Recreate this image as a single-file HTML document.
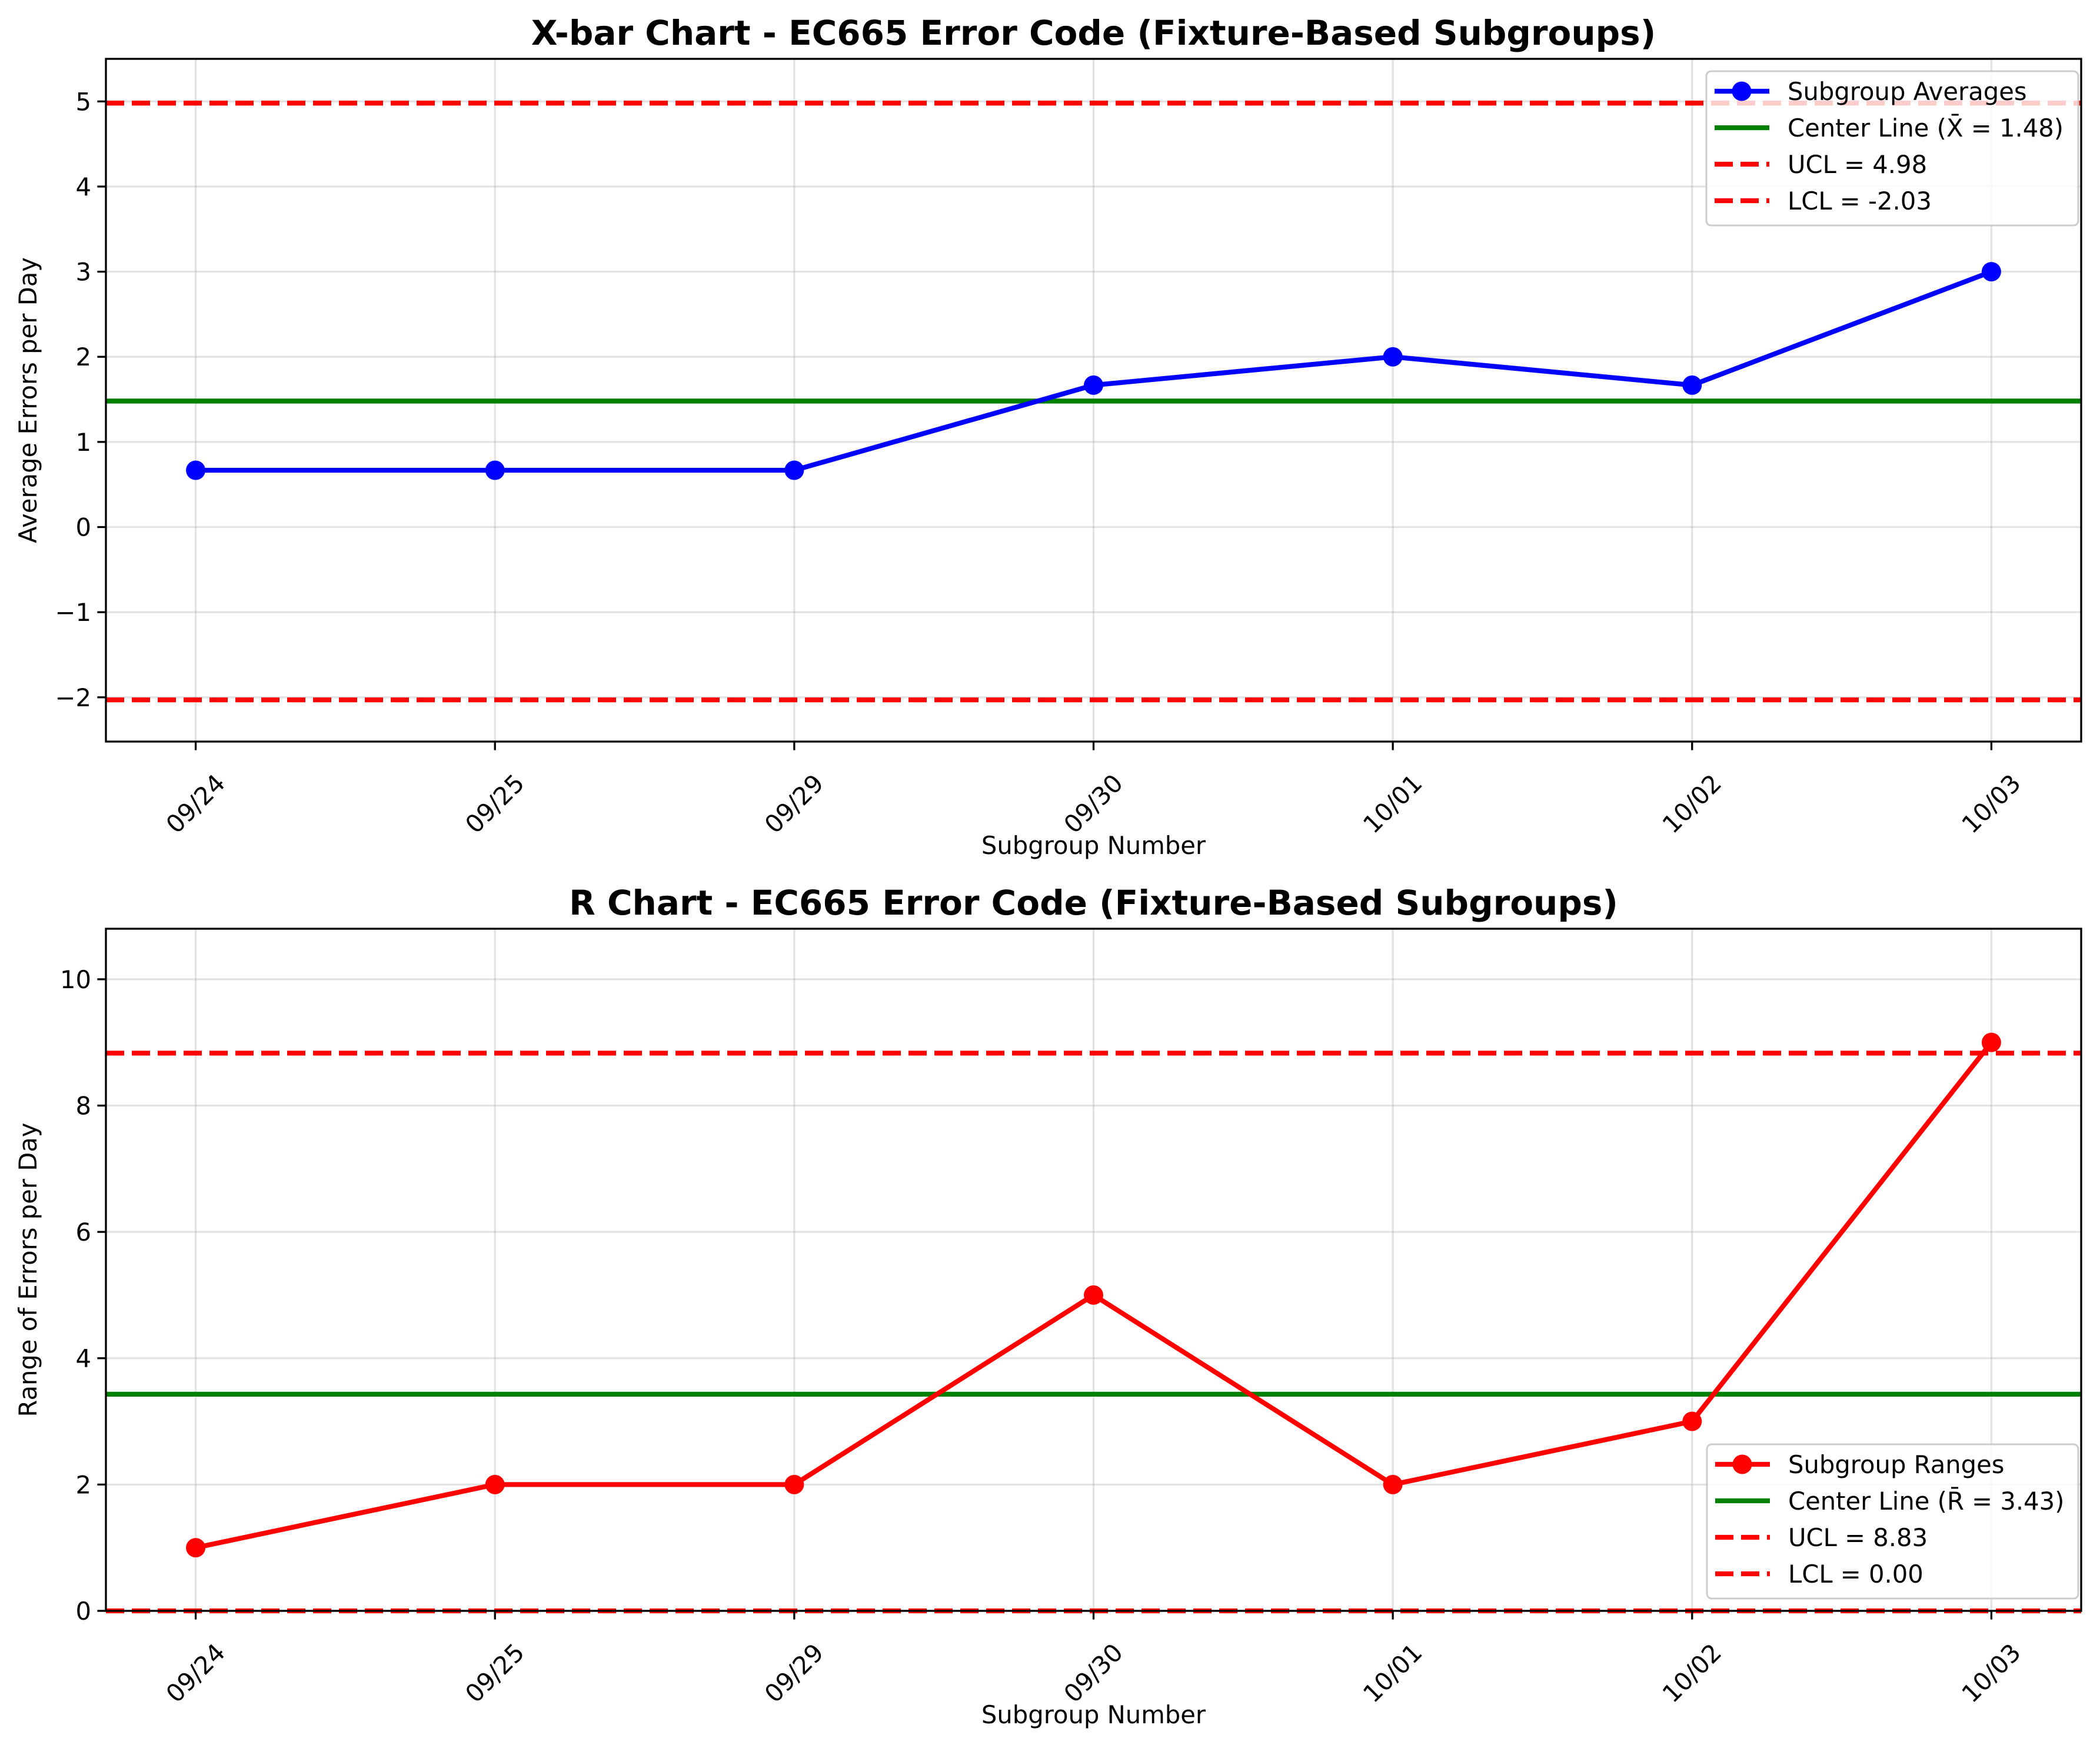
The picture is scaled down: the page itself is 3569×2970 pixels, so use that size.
<!DOCTYPE html>
<html><head><meta charset="utf-8"><style>body{margin:0;background:#fff}svg{display:block}text{font-family:"DejaVu Sans","Liberation Sans",sans-serif}</style></head>
<body>
<svg id="fig" width="3569" height="2970" viewBox="0 0 3569 2970" xmlns="http://www.w3.org/2000/svg"></svg>
<script>
const categories = ["09/24","09/25","09/29","09/30","10/01","10/02","10/03"];
const xbarValues = [0.667,0.667,0.667,1.667,2.0,1.667,3.0];
const xbarCenter = 1.48, xbarUCL = 4.98, xbarLCL = -2.03;
const xbarTicks = [-2,-1,0,1,2,3,4,5];
const xbarTickLabels = ["\u22122","\u22121","0","1","2","3","4","5"];
const rValues = [1,2,2,5,2,3,9];
const rCenter = 3.43, rUCL = 8.83, rLCL = 0.0;
const rTicks = [0,2,4,6,8,10];
const rTickLabels = ["0","2","4","6","8","10"];

const NS="http://www.w3.org/2000/svg";
const svg=document.getElementById('fig');
function el(tag,attrs,parent,txt){const e=document.createElementNS(NS,tag);for(const k in attrs)e.setAttribute(k,attrs[k]);if(txt!==undefined)e.textContent=txt;(parent||svg).appendChild(e);return e;}

function panel(cfg){
  const L=180,R=3537,T=cfg.top,B=cfg.bottom;
  const g=el('g',{});
  
  
  const xs=v=>L+(v+0.3)/6.6*(R-L);
  const ys=v=>B-(v-cfg.ymin)/(cfg.ymax-cfg.ymin)*(B-T);
  categories.forEach((c,i)=>{const l=el('line',{x1:xs(i),x2:xs(i),y1:T,y2:B,stroke:'#b0b0b0','stroke-opacity':0.35,'stroke-width':3.3},g);
    });
  cfg.ticks.forEach(t=>{const l=el('line',{x1:L,x2:R,y1:ys(t),y2:ys(t),stroke:'#b0b0b0','stroke-opacity':0.35,'stroke-width':3.3},g);
    });
  const cl=el('line',{x1:L,x2:R,y1:ys(cfg.center),y2:ys(cfg.center),stroke:'#008000','stroke-width':8.3},g);
  
  const u=el('line',{x1:L,x2:R,y1:ys(cfg.ucl),y2:ys(cfg.ucl),stroke:'#ff0000','stroke-width':8.3,'stroke-dasharray':'31 13'},g);
  
  const lo=el('line',{x1:L,x2:R,y1:ys(cfg.lcl),y2:ys(cfg.lcl),stroke:'#ff0000','stroke-width':8.3,'stroke-dasharray':'31 13'},g);
  
  const pts=cfg.values.map((v,i)=>xs(i)+','+ys(v)).join(' ');
  const pl=el('polyline',{points:pts,fill:'none',stroke:cfg.color,'stroke-width':8.3,'stroke-linejoin':'round'},g);
  
  cfg.values.forEach((v,i)=>{const c=el('circle',{cx:xs(i),cy:ys(v),r:16.5,fill:cfg.color},g);
    });
  const fr=el('rect',{x:L,y:T,width:R-L,height:B-T,fill:'none',stroke:'#000','stroke-width':3.3},g);
  
  cfg.ticks.forEach((t,i)=>{el('line',{x1:L-14.6,x2:L,y1:ys(t),y2:ys(t),stroke:'#000','stroke-width':3.3},g);
    const tx=el('text',{x:L-25,y:ys(t)+15,'font-size':41.7,'text-anchor':'end',fill:'#000'},g,cfg.tickLabels[i]);
    });
  categories.forEach((c,i)=>{el('line',{x1:xs(i),x2:xs(i),y1:B,y2:B+14.6,stroke:'#000','stroke-width':3.3},g);
    const cx=xs(i),cy=B+106;
    const tx=el('text',{x:cx,y:cy+14,'font-size':41.7,'text-anchor':'middle',transform:`rotate(-45 ${cx} ${cy})`,fill:'#000'},g,c);
    });
  const ti=el('text',{x:(L+R)/2,y:T-24,'font-size':58,'font-weight':'bold','text-anchor':'middle'},g,cfg.title);
  
  const xl=el('text',{x:(L+R)/2,y:B+191,'font-size':41.7,'text-anchor':'middle'},g,'Subgroup Number');
  
  const ym=(T+B)/2;
  const yl=el('text',{x:62,y:ym,'font-size':41.7,'text-anchor':'middle',transform:`rotate(-90 62 ${ym})`},g,cfg.ylabel);
  
  const lx=cfg.legX,ly=cfg.legY,lw=3532-cfg.legX,lh=262;
  const lg=el('g',{},g);
  
  el('rect',{x:lx,y:ly,width:lw,height:lh,rx:8,fill:'#fff','fill-opacity':0.8,stroke:'#cccccc','stroke-width':3},lg);
  const entries=[[cfg.labels[0],cfg.color,'',true],[cfg.labels[1],'#008000','',false],[cfg.labels[2],'#ff0000','31 13',false],[cfg.labels[3],'#ff0000','31 13',false]];
  entries.forEach((e,i)=>{const yy=ly+34+i*62;
    const eg=el('g',{},lg);
    
    el('line',{x1:lx+14,x2:lx+107,y1:yy,y2:yy,stroke:e[1],'stroke-width':8.3,'stroke-dasharray':e[2]},eg);
    if(e[3])el('circle',{cx:lx+60,cy:yy,r:16.5,fill:e[1]},eg);
    el('text',{x:lx+138,y:yy+15,'font-size':41.7},eg,e[0]);});
}
panel({name:'xbar-chart',top:100,bottom:1260,ymin:-2.52,ymax:5.50,values:xbarValues,center:xbarCenter,ucl:xbarUCL,lcl:xbarLCL,
  ticks:xbarTicks,tickLabels:xbarTickLabels,color:'#0000ff',title:'X-bar Chart - EC665 Error Code (Fixture-Based Subgroups)',
  ylabel:'Average Errors per Day',legX:2900,legY:121,
  labels:['Subgroup Averages','Center Line (X\u0304 = 1.48)','UCL = 4.98','LCL = -2.03']});
panel({name:'r-chart',top:1578,bottom:2737,ymin:0,ymax:10.8,values:rValues,center:rCenter,ucl:rUCL,lcl:rLCL,
  ticks:rTicks,tickLabels:rTickLabels,color:'#ff0000',title:'R Chart - EC665 Error Code (Fixture-Based Subgroups)',
  ylabel:'Range of Errors per Day',legX:2901,legY:2454,
  labels:['Subgroup Ranges','Center Line (R\u0304 = 3.43)','UCL = 8.83','LCL = 0.00']});
</script>
</body></html>
